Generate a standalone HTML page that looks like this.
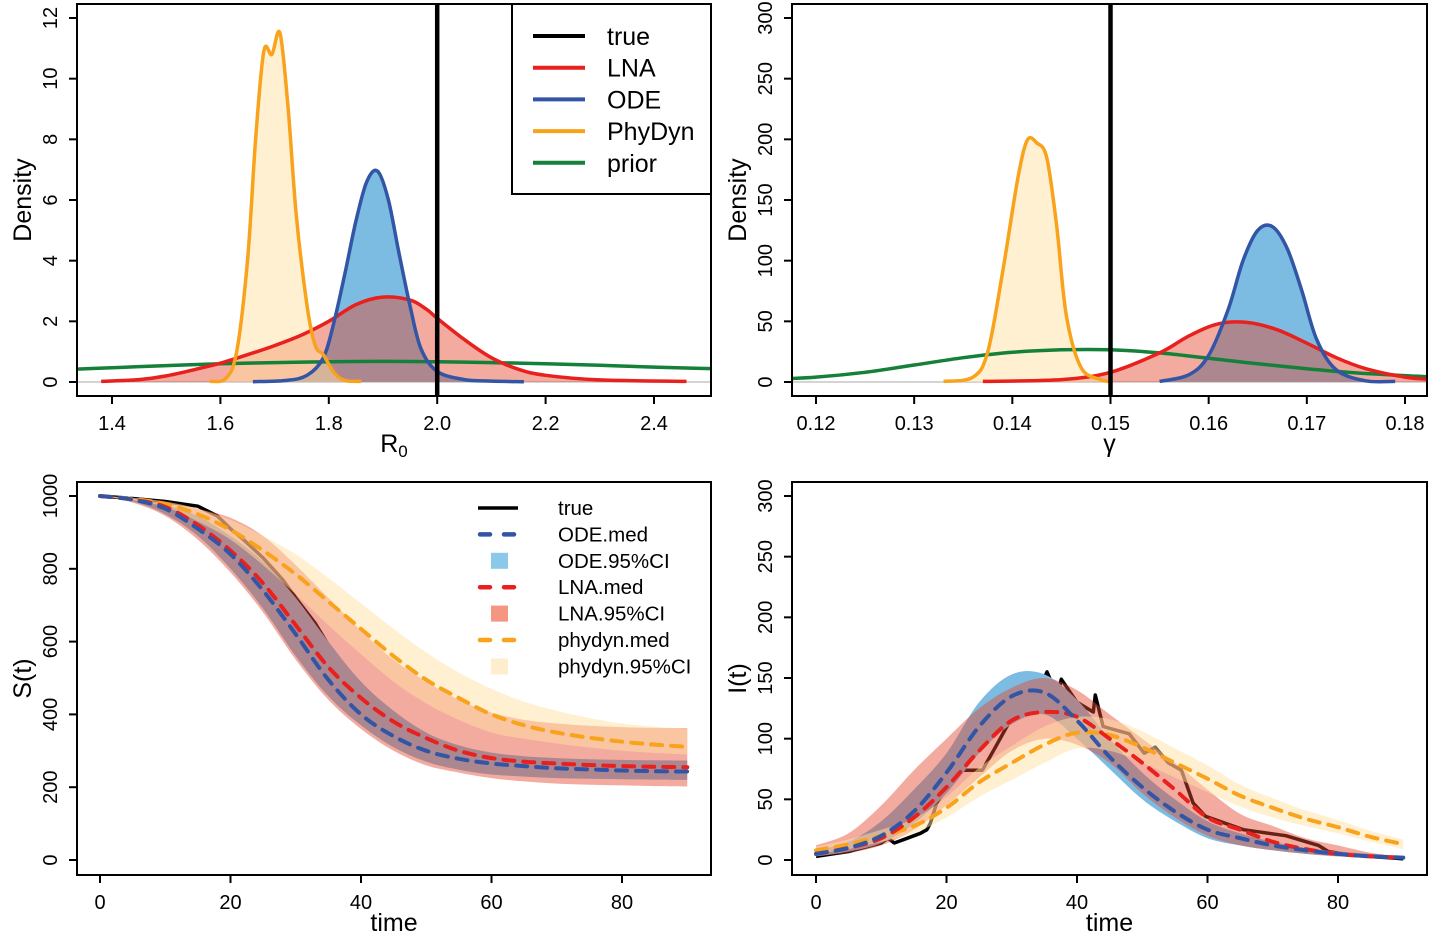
<!DOCTYPE html>
<html><head><meta charset="utf-8">
<style>
html,body{margin:0;padding:0;background:#fff;}
svg{display:block;font-family:"Liberation Sans",Arial,sans-serif;}
</style></head>
<body>
<svg id="chart" width="1432" height="936" viewBox="0 0 1432 936"></svg>
<script>
// ---------- data ----------
const r0Prior=[[1.30,0.40],[1.4,0.47],[1.5,0.54],[1.6,0.6],[1.7,0.64],[1.8,0.67],[1.9,0.68],[2.0,0.67],[2.1,0.64],[2.2,0.6],[2.3,0.55],[2.4,0.49],[2.55,0.42]];
const r0LNA=[[1.38,0.02],[1.45,0.08],[1.5,0.2],[1.55,0.4],[1.6,0.62],[1.65,0.9],[1.7,1.2],[1.75,1.55],[1.8,2.0],[1.85,2.55],[1.9,2.8],[1.95,2.7],[1.98,2.4],[2.0,2.1],[2.05,1.4],[2.1,0.8],[2.15,0.42],[2.2,0.22],[2.3,0.07],[2.46,0.02]];
const r0ODE=[[1.66,0.01],[1.72,0.05],[1.76,0.22],[1.79,0.8],[1.81,2.0],[1.83,3.6],[1.85,5.3],[1.87,6.6],[1.89,6.95],[1.91,6.0],[1.93,4.2],[1.95,2.5],[1.97,1.1],[2.0,0.35],[2.05,0.08],[2.1,0.03],[2.16,0.01]];
const r0Phy=[[1.58,0.02],[1.61,0.12],[1.63,1.0],[1.65,4.0],[1.665,8.0],[1.68,10.9],[1.695,10.8],[1.71,11.5],[1.725,9.0],[1.74,5.5],[1.76,2.5],[1.775,1.2],[1.79,0.9],[1.81,0.3],[1.83,0.05],[1.86,0.02]];
const r0True=[2.0];
const gPrior=[[0.115,2],[0.12,4],[0.125,8],[0.13,14],[0.135,20],[0.14,24.5],[0.145,26.5],[0.15,26.5],[0.155,24],[0.16,19.5],[0.165,15],[0.17,11],[0.175,7.5],[0.183,4]];
const gLNA=[[0.137,0.5],[0.145,2],[0.15,8],[0.155,24],[0.158,38],[0.161,48],[0.164,49],[0.167,43],[0.17,32],[0.173,20],[0.176,11],[0.18,4],[0.183,2]];
const gODE=[[0.155,0.5],[0.158,6],[0.16,22],[0.162,60],[0.1635,100],[0.165,125],[0.1665,128],[0.168,110],[0.1695,75],[0.171,35],[0.173,10],[0.176,1],[0.179,0.5]];
const gPhy=[[0.133,0.5],[0.136,4],[0.1375,25],[0.139,90],[0.1405,165],[0.1415,199],[0.1425,197],[0.1435,185],[0.1445,130],[0.1455,55],[0.147,12],[0.149,2],[0.15,0.5]];
const gTrue=[0.15];
const time=[0,5,10,15,20,25,30,35,40,45,50,55,60,65,70,75,80,85,90];
const sTrueTime=[0,5,10,15,18,20,22,25,28,30,33,35,38,40,42,43,45,48,50,53,56,60,70,80,90];
const sTrue=[1000,993,985,972,945,910,880,830,770,720,650,590,520,475,430,415,380,340,315,293,275,265,255,250,247];
const sODEmed=[1000,990,965,910,840,740,620,495,400,340,300,278,265,258,252,249,246,244,243];
const sODElo=[1000,985,950,890,800,690,560,450,370,310,270,248,235,229,225,223,222,221,220];
const sODEhi=[1000,993,975,945,890,820,720,600,490,410,350,315,295,285,280,277,275,274,273];
const sLNAmed=[1000,990,970,920,850,760,645,530,445,380,335,300,280,270,265,261,258,256,255];
const sLNAlo=[1000,982,945,880,790,680,550,440,360,300,260,240,225,216,210,207,205,203,202];
const sLNAhi=[1000,995,985,965,940,890,810,720,630,550,490,440,405,385,375,369,365,363,362];
const sPhyMed=[1000,992,978,950,907,850,785,710,635,560,495,445,400,370,350,336,325,317,311];
const sPhyLo=[1000,988,970,930,880,810,730,645,565,490,430,385,350,333,320,309,300,294,290];
const sPhyHi=[1000,995,985,965,935,890,840,775,705,635,570,515,470,435,410,390,375,366,360];
const iTrueTime=[0,5,10,11,12,14,16,17,17.5,18.5,20,22.5,25.5,27.5,30.7,34,35.4,37,37.6,40,42.5,42.8,44,48,50.3,52,54,56,57.8,59.7,65.5,72,77,78.5,82,90];
const iTrue=[3,7,14,18,14,18,22,25,30,47,60,74,74,93,124,138,155,135,149,130,122,136,110,104,88,93,80,74,47,36,25,20,12,7,4,1];
const iODEmed=[5,10,20,40,72,110,135,138,115,85,60,40,25,18,12,8,5,3,2];
const iODElo=[3,7,14,30,55,88,112,120,100,75,50,32,18,12,8,5,3,2,1];
const iODEhi=[8,15,32,58,88,130,153,153,132,100,72,50,32,22,15,10,7,5,3];
const iLNAmed=[5,10,18,35,60,90,115,122,118,100,80,58,35,25,15,9,5,3,2];
const iLNAlo=[3,6,12,25,45,68,90,100,95,80,55,35,20,12,8,5,3,2,1];
const iLNAhi=[12,22,45,74,100,125,142,150,140,120,100,80,58,38,28,18,12,6,3];
const iPhyMed=[8,13,20,28,43,64,80,95,105,103,93,80,67,53,43,34,27,19,13];
const iPhyLo=[5,9,15,22,35,52,66,80,92,90,80,68,56,44,35,28,22,15,9];
const iPhyHi=[11,17,25,34,52,76,94,110,118,116,106,92,78,62,51,41,33,24,17];
const r0Ticks=[1.4,1.6,1.8,2.0,2.2,2.4];
const r0TickLabels=["1.4","1.6","1.8","2.0","2.2","2.4"];
const densTicks1=[0,2,4,6,8,10,12];
const gTicks=[0.12,0.13,0.14,0.15,0.16,0.17,0.18];
const gTickLabels=["0.12","0.13","0.14","0.15","0.16","0.17","0.18"];
const densTicks2=[0,50,100,150,200,250,300];
const timeTicks=[0,20,40,60,80];
const sTicks=[0,200,400,600,800,1000];
const iTicks=[0,50,100,150,200,250,300];

// ---------- helpers ----------
const NS="http://www.w3.org/2000/svg";
const svg=document.getElementById('chart');
function mk(tag,attrs,parent){const e=document.createElementNS(NS,tag);for(const k in attrs)e.setAttribute(k,attrs[k]);(parent||svg).appendChild(e);return e;}
function lin(d0,d1,r0,r1){return v=>r0+(v-d0)*(r1-r0)/(d1-d0);}
function smooth(pts){
  if(pts.length<2)return '';
  let d='M'+pts[0][0].toFixed(1)+','+pts[0][1].toFixed(1);
  for(let i=0;i<pts.length-1;i++){
    const p0=pts[Math.max(0,i-1)],p1=pts[i],p2=pts[i+1],p3=pts[Math.min(pts.length-1,i+2)];
    const c1=[p1[0]+(p2[0]-p0[0])/6,p1[1]+(p2[1]-p0[1])/6];
    const c2=[p2[0]-(p3[0]-p1[0])/6,p2[1]-(p3[1]-p1[1])/6];
    d+='C'+c1[0].toFixed(1)+','+c1[1].toFixed(1)+' '+c2[0].toFixed(1)+','+c2[1].toFixed(1)+' '+p2[0].toFixed(1)+','+p2[1].toFixed(1);
  }
  return d;
}
function makePanel(id,box,xd,yd,xr,yr){
  const g=mk('g',{});
  
  
  const cp=mk('clipPath',{id:'clip-'+id},svg);
  mk('rect',{x:box[0],y:box[1],width:box[2]-box[0],height:box[3]-box[1]},cp);
  const plot=mk('g',{'clip-path':'url(#clip-'+id+')'},g);
  
  
  return {g,plot,box,x:lin(xd[0],xd[1],xr[0],xr[1]),y:lin(yd[0],yd[1],yr[0],yr[1])};
}
function axes(P,xt,xl,yt,yl,xlab,ylab,xsub){
  const b=P.box;
  const ax=mk('g',{stroke:'#000','stroke-width':2,fill:'none'},P.g);
  
  
  const fr=mk('rect',{x:b[0],y:b[1],width:b[2]-b[0],height:b[3]-b[1]},ax);
  
  
  xt.forEach((v,i)=>{
    const X=P.x(v);
    const t=mk('line',{x1:X,x2:X,y1:b[3],y2:b[3]+8},ax);
    
    
    const lb=mk('text',{x:X,y:b[3]+34,'font-size':20,'text-anchor':'middle',fill:'#000',stroke:'none'},P.g);
    lb.textContent=xl[i];
    
    
  });
  yt.forEach((v,i)=>{
    const Y=P.y(v);
    const t=mk('line',{x1:b[0]-8,x2:b[0],y1:Y,y2:Y},ax);
    
    
    const lb=mk('text',{x:0,y:0,'font-size':20,'text-anchor':'middle',fill:'#000',stroke:'none',transform:'translate('+(b[0]-20)+','+Y+') rotate(-90)'},P.g);
    lb.textContent=yl[i];
    
    
  });
  const xc=(b[0]+b[2])/2;
  const xt2=mk('text',{x:xc,y:b[3]+56,'font-size':25,'text-anchor':'middle',fill:'#000'},P.g);
  
  
  xt2.textContent=xlab;
  if(xsub){const s=mk('tspan',{'font-size':17,dy:5},xt2);s.textContent=xsub;}
  const yc=(b[1]+b[3])/2;
  const yt2=mk('text',{x:0,y:0,'font-size':25,'text-anchor':'middle',fill:'#000',transform:'translate('+(b[0]-46)+','+yc+') rotate(-90)'},P.g);
  
  
  yt2.textContent=ylab;
}
function densArea(P,data,fill,name){
  const pts=data.map(d=>[P.x(d[0]),P.y(d[1])]);
  const d=smooth(pts)+'L'+pts[pts.length-1][0]+','+P.y(0)+'L'+pts[0][0]+','+P.y(0)+'Z';
  const e=mk('path',{d,fill,stroke:'none'},P.plot);
  
  
}
function densLine(P,data,color,name){
  const pts=data.map(d=>[P.x(d[0]),P.y(d[1])]);
  const e=mk('path',{d:smooth(pts),fill:'none',stroke:color,'stroke-width':3.5,'stroke-linejoin':'round'},P.plot);
  
  
}
function band(P,xs,lo,hi,fill,name){
  const up=xs.map((t,i)=>[P.x(t),P.y(hi[i])]);
  const dn=xs.map((t,i)=>[P.x(t),P.y(lo[i])]).reverse();
  const d=smooth(up)+'L'+dn[0][0]+','+dn[0][1]+smooth(dn).replace(/^M[^C]*/,'')+'Z';
  const e=mk('path',{d,fill,stroke:'none'},P.plot);
  
  
}
function series(P,xs,ys,color,name,dash,w){
  const pts=xs.map((t,i)=>[P.x(t),P.y(ys[i])]);
  const a={d:smooth(pts),fill:'none',stroke:color,'stroke-width':w||4,'stroke-linejoin':'round'};
  if(dash){a['stroke-dasharray']='11 9';a['stroke-linecap']='round';}
  const e=mk('path',a,P.plot);
  
  
}
function jagged(P,xs,ys,name){
  const pts=xs.map((t,i)=>P.x(t).toFixed(1)+','+P.y(ys[i]).toFixed(1));
  const e=mk('polyline',{points:pts.join(' '),fill:'none',stroke:'#000','stroke-width':3.5,'stroke-linejoin':'round'},P.plot);
  
  
}
function vline(P,v,name){
  const e=mk('line',{x1:P.x(v),x2:P.x(v),y1:P.box[1],y2:P.box[3],stroke:'#000','stroke-width':4.5},P.plot);
  
  
}
function zeroLine(P){
  const e=mk('line',{x1:P.box[0],x2:P.box[2],y1:P.y(0),y2:P.y(0),stroke:'#bbb','stroke-width':1.2},P.plot);
  
  
}
const C={red:'#e8201e',blue:'#3355a5',orange:'#f9a21b',green:'#14803a'};
const F={ode:'rgb(125,188,226)',lna:'rgba(232,72,46,0.46)',phy:'rgba(255,226,165,0.5)'};

// ---------- panel 1: R0 ----------
const P1=makePanel('r0-density-panel',[77,4,711,396],[1.4,2.4],[0,12],[112,654],[382,18]);
zeroLine(P1);
densArea(P1,r0ODE,F.ode,'ode-density-fill');
densArea(P1,r0LNA,F.lna,'lna-density-fill');
densArea(P1,r0Phy,F.phy,'phydyn-density-fill');
densLine(P1,r0Prior,C.green,'prior-density-line');
densLine(P1,r0LNA,C.red,'lna-density-line');
densLine(P1,r0ODE,C.blue,'ode-density-line');
densLine(P1,r0Phy,C.orange,'phydyn-density-line');
vline(P1,r0True[0],'true-r0-line');
axes(P1,r0Ticks,r0TickLabels,densTicks1,densTicks1.map(String),'R','Density','0');
(function(){
  const lg=mk('g',{},P1.g);
  
  
  mk('rect',{x:512,y:4,width:199,height:190,fill:'#fff',stroke:'#000','stroke-width':2},lg);
  const labs=['true','LNA','ODE','PhyDyn','prior'],cols=['#000',C.red,C.blue,C.orange,C.green];
  labs.forEach((l,i)=>{
    const y=36+i*31.7;
    const ln=mk('line',{x1:533,x2:585,y1:y,y2:y,stroke:cols[i],'stroke-width':4},lg);
    
    
    const t=mk('text',{x:607,y:y+9,'font-size':25,fill:'#000'},lg);
    t.textContent=l;
    
    
  });
})();

// ---------- panel 2: gamma ----------
const P2=makePanel('gamma-density-panel',[792,4,1427,396],[0.12,0.18],[0,300],[816,1405],[382,18]);
zeroLine(P2);
densArea(P2,gODE,F.ode,'ode-density-fill');
densArea(P2,gLNA,F.lna,'lna-density-fill');
densArea(P2,gPhy,F.phy,'phydyn-density-fill');
densLine(P2,gPrior,C.green,'prior-density-line');
densLine(P2,gLNA,C.red,'lna-density-line');
densLine(P2,gODE,C.blue,'ode-density-line');
densLine(P2,gPhy,C.orange,'phydyn-density-line');
vline(P2,gTrue[0],'true-gamma-line');
axes(P2,gTicks,gTickLabels,densTicks2,densTicks2.map(String),'γ','Density');

// ---------- panel 3: S(t) ----------
const P3=makePanel('susceptible-panel',[77,482,711,875],[0,80],[0,1000],[100,622],[860,496]);
jagged(P3,sTrueTime,sTrue,'true-s-line');
band(P3,time,sODElo,sODEhi,F.ode,'ode-s-ci-band');
band(P3,time,sLNAlo,sLNAhi,F.lna,'lna-s-ci-band');
band(P3,time,sPhyLo,sPhyHi,F.phy,'phydyn-s-ci-band');
series(P3,time,sPhyMed,C.orange,'phydyn-s-median',true);
series(P3,time,sLNAmed,C.red,'lna-s-median',true);
series(P3,time,sODEmed,C.blue,'ode-s-median',true);
axes(P3,timeTicks,timeTicks.map(String),sTicks,sTicks.map(String),'time','S(t)');
(function(){
  const lg=mk('g',{},P3.g);
  
  
  const labs=['true','ODE.med','ODE.95%CI','LNA.med','LNA.95%CI','phydyn.med','phydyn.95%CI'];
  labs.forEach((l,i)=>{
    const y=508+i*26.4;
    let sw;
    if(i===0) sw=mk('line',{x1:478,x2:518,y1:y,y2:y,stroke:'#000','stroke-width':3.5},lg);
    else if(l.endsWith('med')){
      const c=i===1?C.blue:(i===3?C.red:C.orange);
      sw=mk('line',{x1:480,x2:518,y1:y,y2:y,stroke:c,'stroke-width':4.5,'stroke-dasharray':'10 14','stroke-linecap':'round'},lg);
    } else {
      const c=i===2?'rgb(140,200,232)':(i===4?'rgb(244,150,128)':'rgb(255,238,205)');
      sw=mk('rect',{x:491,y:y-8,width:17,height:16,fill:c},lg);
    }
    
    
    const t=mk('text',{x:558,y:y+7,'font-size':20.5,fill:'#000'},lg);
    t.textContent=l;
    
    
  });
})();

// ---------- panel 4: I(t) ----------
const P4=makePanel('infected-panel',[792,482,1427,875],[0,80],[0,300],[816,1338],[860,496]);
jagged(P4,iTrueTime,iTrue,'true-i-line');
band(P4,time,iODElo,iODEhi,F.ode,'ode-i-ci-band');
band(P4,time,iLNAlo,iLNAhi,F.lna,'lna-i-ci-band');
band(P4,time,iPhyLo,iPhyHi,F.phy,'phydyn-i-ci-band');
series(P4,time,iPhyMed,C.orange,'phydyn-i-median',true);
series(P4,time,iLNAmed,C.red,'lna-i-median',true);
series(P4,time,iODEmed,C.blue,'ode-i-median',true);
axes(P4,timeTicks,timeTicks.map(String),iTicks,iTicks.map(String),'time','I(t)');
</script>
</body></html>
